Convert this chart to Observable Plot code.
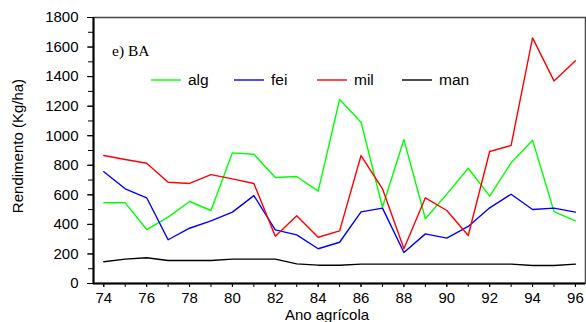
<!DOCTYPE html>
<html>
<head>
<meta charset="utf-8">
<script src="https://cdn.jsdelivr.net/npm/d3@7"></script>
<script src="https://cdn.jsdelivr.net/npm/@observablehq/plot@0.6"></script>
<style>
  html, body { margin: 0; padding: 0; background: white; }
</style>
</head>
<body>
<div id="chart"></div>
<script>
// ---- data ----
const years = [74,75,76,77,78,79,80,81,82,83,84,85,86,87,88,89,90,91,92,93,94,95,96];
const xTickLabels = [74,76,78,80,82,84,86,88,90,92,94,96];
const yTickLabels = [0,200,400,600,800,1000,1200,1400,1600,1800];
const yMinorTicks = [0,100,200,300,400,500,600,700,800,900,1000,1100,1200,1300,1400,1500,1600,1700,1800];
const seriesNames = ["alg","fei","mil","man"];
const seriesColors = ["#00ff00","#0000ff","#ff0000","#000000"];
const alg = [546,546,365,449,555,494,884,875,717,724,625,1245,1091,516,974,438,605,780,591,817,970,487,424];
const fei = [756,641,580,296,374,424,483,595,363,329,235,279,485,510,210,336,307,386,512,604,501,510,483];
const mil = [866,839,814,685,677,737,708,677,320,458,313,356,866,641,235,580,494,325,893,934,1662,1371,1507];
const man = [147,165,174,156,156,156,165,165,165,133,124,124,131,131,131,131,131,131,131,131,122,122,131];
const panelTitle = "e) BA";
const xLabel = "Ano agrícola";
const yLabel = "Rendimento (Kg/ha)";

const seriesValues = [alg, fei, mil, man];
const rows = [];
seriesNames.forEach((s, i) => years.forEach((yr, j) => rows.push({series: s, year: yr, value: seriesValues[i][j]})));

// ---- layout ----
const W = 586, H = 322;
const mL = 93, mR = 1, mT = 17, mB = 39;
const xDomain = [73.52, 96.47];
const font = "'Liberation Sans', Arial, sans-serif";

const chart = Plot.plot({
  width: W, height: H,
  marginLeft: mL, marginRight: mR, marginTop: mT, marginBottom: mB,
  style: {fontFamily: font, fontSize: "15px", background: "white", color: "black"},
  x: {domain: xDomain},
  y: {domain: [0, 1800]},
  color: {domain: seriesNames, range: seriesColors},
  marks: [
    Plot.frame({stroke: "#444", strokeWidth: 1.5}),
    Plot.axisY({ticks: yMinorTicks, tickSize: 5, tickFormat: () => "", label: null}),
    Plot.axisY({ticks: yTickLabels, tickSize: 6, tickPadding: 9, tickFormat: d3.format("d"), label: null, fontSize: 15}),
    Plot.axisX({ticks: years, tickSize: 4, tickFormat: () => "", label: null}),
    Plot.axisX({ticks: xTickLabels, tickSize: 4, tickPadding: 5, tickFormat: d3.format("d"), label: null, fontSize: 15}),
    Plot.line(rows, {x: "year", y: "value", stroke: "series", z: "series", strokeWidth: 1.4}),
    Plot.ruleY([0], {stroke: "black", strokeWidth: 2}),
    Plot.ruleX([xDomain[0]], {stroke: "black", strokeWidth: 2})
  ]
});
document.getElementById("chart").appendChild(chart);

// ---- annotations (layout overlay) ----
const svg = d3.select(chart);
// panel title
svg.append("text")
  .attr("x", 112).attr("y", 56)
  .attr("text-anchor", "start")
  .attr("font-family", "'Liberation Serif', 'Times New Roman', serif")
  .attr("font-size", 15.5)
  .attr("fill", "black")
  .text(panelTitle);

// legend
const legendX = [151, 234, 317, 402];
const legendY = 80;
const lg = svg.append("g");
seriesNames.forEach((s, i) => {
  lg.append("line")
    .attr("x1", legendX[i]).attr("x2", legendX[i] + 30)
    .attr("y1", legendY).attr("y2", legendY)
    .attr("stroke", seriesColors[i]).attr("stroke-width", 1.4);
  lg.append("text")
    .attr("x", legendX[i] + 37).attr("y", legendY)
    .attr("dy", "0.35em")
    .attr("text-anchor", "start")
    .attr("font-family", font).attr("font-size", 15.5)
    .attr("fill", "black")
    .text(s);
});

// axis labels
svg.append("text")
  .attr("x", 327).attr("y", 320)
  .attr("text-anchor", "middle")
  .attr("font-family", font).attr("font-size", 15)
  .attr("fill", "black")
  .text(xLabel);
svg.append("text")
  .attr("transform", "translate(23,146) rotate(-90)")
  .attr("text-anchor", "middle")
  .attr("font-family", font).attr("font-size", 15)
  .attr("fill", "black")
  .text(yLabel);
</script>
</body>
</html>
